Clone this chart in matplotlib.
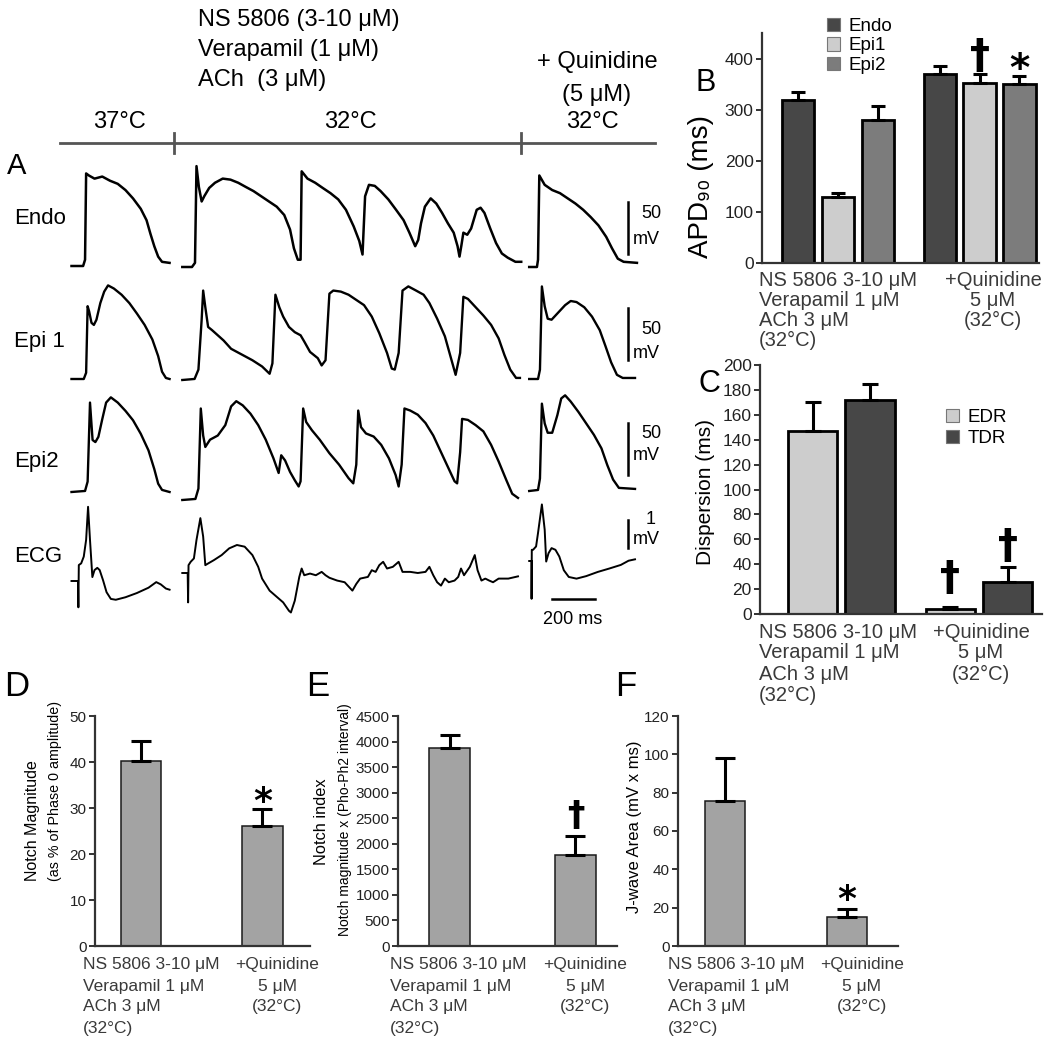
import numpy as np
import matplotlib
matplotlib.use('Agg')
import matplotlib.pyplot as plt
from matplotlib.lines import Line2D
from matplotlib.patches import Patch

plt.rcParams['font.family'] = ['Liberation Sans', 'DejaVu Sans']

W, H = 1050, 1042

# ---------------- panel A: traces (ms from sweep start, mV above rest) ----------------
endo_t1 = [0, 54, 63, 68, 81, 107, 143, 179, 215, 251, 286, 322, 349, 367, 385, 403, 421, 456]
endo_v1 = [0, 0, 6, 89, 87, 84, 86, 82, 79, 73, 65, 55, 44, 31, 19, 9, 4, 3]
endo_t2 = [0, 45, 59, 66, 77, 90, 102, 125, 152, 188, 224, 260, 295, 331, 367, 403, 439, 474,
           501, 519, 537, 550, 555, 582, 618, 653, 689, 725, 761, 797, 823, 838, 850, 868, 895,
           922, 958, 994, 1029, 1056, 1083, 1097, 1110, 1128, 1155, 1181, 1208, 1235, 1262,
           1280, 1289, 1298, 1307, 1325, 1343, 1369, 1387, 1405, 1432, 1459, 1486, 1513, 1549, 1576]
endo_v2 = [0, 0, 4, 97, 77, 63, 68, 76, 81, 85, 84, 81, 77, 73, 68, 63, 58, 50, 36, 18,
           7, 7, 92, 85, 81, 76, 71, 65, 55, 39, 25, 12, 68, 79, 78, 73, 65, 55, 45, 33,
           20, 26, 42, 58, 66, 61, 52, 42, 33, 20, 10, 21, 33, 31, 37, 55, 57, 52, 37, 23,
           13, 9, 5, 5]
endo_t3 = [0, 36, 41, 47, 72, 107, 143, 179, 215, 251, 286, 322, 358, 385, 412, 439, 501]
endo_v3 = [0, 0, 7, 88, 79, 74, 71, 66, 61, 55, 48, 40, 29, 18, 8, 5, 4]

epi1_t1 = [0, 57, 68, 75, 82, 93, 104, 116, 134, 152, 170, 197, 233, 269, 304, 340, 376, 403, 421, 439, 456]
epi1_v1 = [0, 0, 6, 70, 65, 54, 52, 57, 73, 84, 90, 87, 81, 73, 63, 52, 38, 22, 7, 1, 0]
epi1_t2 = [0, 57, 75, 90, 97, 107, 120, 138, 165, 192, 227, 272, 326, 371, 406, 419, 433, 451,
           469, 496, 523, 550, 567, 594, 630, 648, 666, 684, 702, 737, 773, 809, 845, 881, 916,
           952, 974, 988, 1006, 1024, 1051, 1087, 1122, 1149, 1185, 1221, 1248, 1271, 1292,
           1307, 1328, 1364, 1400, 1436, 1471, 1498, 1525, 1552, 1570]
epi1_v2 = [0, 1, 10, 58, 86, 70, 51, 48, 43, 38, 30, 25, 19, 13, 6, 16, 82, 70, 61, 51,
           46, 43, 37, 27, 21, 14, 19, 83, 86, 85, 82, 77, 72, 61, 45, 26, 11, 10, 26, 86,
           90, 86, 82, 74, 59, 42, 22, 5, 26, 80, 78, 70, 62, 53, 40, 24, 10, 2, 2]
epi1_t3 = [0, 41, 50, 59, 72, 86, 104, 131, 167, 193, 220, 256, 292, 328, 354, 381, 408, 435, 492]
epi1_v3 = [0, 0, 9, 89, 70, 58, 57, 63, 71, 75, 74, 69, 60, 47, 32, 16, 4, 1, 1]

epi2_t1 = [0, 63, 75, 86, 98, 111, 125, 143, 161, 183, 215, 251, 286, 322, 358, 385, 403, 421, 456]
epi2_v1 = [0, 1, 10, 86, 50, 48, 53, 70, 86, 91, 86, 78, 69, 56, 40, 22, 8, 2, 0]
epi2_t2 = [0, 61, 75, 86, 97, 107, 129, 165, 200, 227, 251, 281, 317, 353, 388, 424, 448, 460,
           478, 501, 523, 541, 550, 562, 576, 603, 639, 684, 729, 773, 795, 809, 818, 831, 854,
           890, 925, 961, 992, 1006, 1020, 1033, 1060, 1095, 1131, 1167, 1203, 1239, 1266,
           1278, 1292, 1301, 1328, 1364, 1400, 1436, 1471, 1507, 1534, 1561]
epi2_v2 = [0, 1, 11, 88, 62, 51, 58, 62, 72, 90, 95, 91, 83, 72, 58, 40, 26, 43, 38, 27,
           19, 13, 18, 88, 75, 67, 58, 45, 34, 21, 16, 34, 86, 70, 64, 61, 53, 40, 24, 13,
           34, 88, 86, 82, 74, 62, 46, 30, 18, 16, 46, 78, 77, 72, 66, 53, 37, 19, 6, 2]
epi2_t3 = [0, 41, 50, 59, 72, 86, 107, 131, 149, 167, 193, 229, 265, 301, 336, 363, 390, 417, 492]
epi2_v3 = [0, 1, 12, 84, 65, 56, 56, 73, 89, 92, 86, 76, 65, 54, 41, 25, 11, 3, 2]

# ECG in mV
ecg_t1 = [0, 30, 32, 34, 45, 57, 68, 77, 86, 97, 107, 120, 131, 147, 163, 183, 206, 251, 304,
          358, 394, 415, 439, 456]
ecg_v1 = [0, 0, -0.94, 0.57, 0.63, 0.87, 1.47, 2.65, 1.47, 0.14, 0.39, 0.47, 0.39, 0.02,
          -0.40, -0.64, -0.67, -0.58, -0.43, -0.24, -0.04, -0.12, -0.27, -0.31]
ecg_t2 = [0, 25, 27, 29, 39, 54, 66, 84, 97, 107, 120, 147, 183, 218, 254, 290, 326, 353, 371,
          406, 442, 469, 496, 505, 523, 544, 555, 567, 594, 621, 648, 666, 684, 720, 755, 791,
          809, 827, 863, 881, 899, 916, 934, 952, 979, 1006, 1024, 1060, 1095, 1131, 1149,
          1167, 1185, 1203, 1221, 1239, 1266, 1283, 1296, 1310, 1337, 1360, 1373, 1391, 1409,
          1427, 1445, 1471, 1516, 1561]
ecg_v2 = [0, 0, -1.05, 0.28, 0.40, 0.52, 1.18, 1.96, 1.30, 0.28, 0.34, 0.46, 0.64, 0.88, 1.0,
          0.94, 0.64, 0.22, -0.20, -0.63, -0.87, -1.05, -1.35, -1.41, -0.99, -0.14, 0.16,
          -0.08, -0.02, -0.08, 0.04, -0.08, -0.17, -0.27, -0.33, -0.63, -0.39, -0.20, -0.14,
          0.10, 0.04, 0.28, 0.40, 0.16, 0.22, 0.40, 0.04, 0.04, 0, 0.04, 0.22, -0.08, -0.33,
          -0.45, -0.20, -0.33, -0.27, -0.14, 0.16, -0.08, 0.22, 0.64, 0.10, -0.27, -0.20,
          -0.27, -0.33, -0.20, -0.20, -0.12]
ecg_t3 = [0, 11, 11, 12, 18, 32, 41, 59, 72, 79, 90, 104, 122, 140, 161, 184, 220, 265, 319,
          372, 426, 462, 492]
ecg_v3 = [0, 0, -1.35, 0.40, 0.40, 0.52, 1.00, 2.02, 1.12, -0.02, 0.28, 0.46, 0.40, 0.16,
          -0.33, -0.57, -0.63, -0.54, -0.39, -0.27, -0.14, 0.01, 0.06]

row_names = ['Endo', 'Epi 1', 'Epi2', 'ECG']

# ---------------- panels B-F: bar data ----------------
cond_left = ['NS 5806 3-10 \u03bcM', 'Verapamil 1 \u03bcM', 'ACh 3 \u03bcM', '(32\u00b0C)']
cond_right = ['+Quinidine', '5 \u03bcM', '(32\u00b0C)']

apd_series = ['Endo', 'Epi1', 'Epi2']
apd_mean = [[318, 370], [129, 352], [280, 350]]
apd_err = [[17, 15], [8, 17], [27, 16]]

disp_series = ['EDR', 'TDR']
disp_mean = [[147, 4], [172, 26]]
disp_err = [[23, 1.5], [13, 11.5]]

notch_mag = [40.3, 26.0]
notch_mag_err = [4.2, 3.8]
notch_idx = [3880, 1780]
notch_idx_err = [250, 365]
jwave_area = [75.5, 15.1]
jwave_err = [22.5, 4.4]

# ---------------- layout helpers ----------------
fig = plt.figure(figsize=(W / 100, H / 100), dpi=100)


def rect(x0, y0, x1, y1):
    return [x0 / W, 1 - y1 / H, (x1 - x0) / W, (y1 - y0) / H]


def ftext(x, y, s, **kw):
    fig.text(x / W, 1 - y / H, s, **kw)


def fline(xs, ys, **kw):
    fig.add_artist(Line2D([x / W for x in xs], [1 - y / H for y in ys],
                          transform=fig.transFigure, **kw))


# ---------------- panel A ----------------
MS_PER_PX = 4.65
PX_PER_MV = 1.04
ECG_GAIN = 28 / PX_PER_MV  # plot units per ECG mV

axA = fig.add_axes(rect(60, 150, 660, 640))
axA.set_xlim(0, 600 * MS_PER_PX)
axA.set_ylim(0, 490 / PX_PER_MV)
axA.axis('off')


def ax_x(xpx):
    return (xpx - 60) * MS_PER_PX


def ax_y(ypx):
    return (640 - ypx) / PX_PER_MV


seg_x = [71.5, 182.3, 529.2]
rows = [
    ([endo_t1, endo_t2, endo_t3], [endo_v1, endo_v2, endo_v3], [266, 267, 267], 1, 1.8),
    ([epi1_t1, epi1_t2, epi1_t3], [epi1_v1, epi1_v2, epi1_v3], [379, 380, 379], 1, 1.7),
    ([epi2_t1, epi2_t2, epi2_t3], [epi2_v1, epi2_v2, epi2_v3], [492, 500, 491], 1, 1.7),
    ([ecg_t1, ecg_t2, ecg_t3], [ecg_v1, ecg_v2, ecg_v3], [581, 573, 561], ECG_GAIN, 1.4),
]
for ts, vs, bases, gain, lw in rows:
    for t, v, b, sx in zip(ts, vs, bases, seg_x):
        axA.plot(np.array(t) + ax_x(sx), ax_y(b) + np.array(v) * gain,
                 color='black', lw=lw, solid_joinstyle='round')

# scale bars
for bottom in [254, 360, 475]:
    axA.plot([ax_x(628)] * 2, [ax_y(bottom), ax_y(bottom) + 50], color='black', lw=1.8)
axA.plot([ax_x(628)] * 2, [ax_y(548), ax_y(548) + ECG_GAIN], color='black', lw=1.8)
axA.plot([ax_x(551.5), ax_x(551.5) + 200], [ax_y(599)] * 2, color='black', lw=1.8)

for y50, ymv in [(213, 240), (330, 353), (433, 456)]:
    ftext(641, y50, '50', fontsize=13, va='center', ha='left')
    ftext(633, ymv, 'mV', fontsize=13, va='center', ha='left')
ftext(646, 519, '1', fontsize=13, va='center', ha='left')
ftext(633, 540, 'mV', fontsize=13, va='center', ha='left')
ftext(573, 619, '200 ms', fontsize=13, va='center', ha='center')

for name, y in zip(row_names, [218, 342, 462, 557]):
    ftext(14, y, name, fontsize=16, va='center', ha='left')

# header
fline([60, 655], [143, 143], color='#555555', lw=2)
for xt in [174, 521]:
    fline([xt, xt], [133, 153], color='#555555', lw=2)
ftext(119, 122, '37\u00b0C', fontsize=17, ha='center', va='center')
ftext(350, 122, '32\u00b0C', fontsize=17, ha='center', va='center')
ftext(592, 122, '32\u00b0C', fontsize=17, ha='center', va='center')
ftext(597, 95, '(5 \u03bcM)', fontsize=17, ha='center', va='center')
ftext(597, 62, '+ Quinidine', fontsize=17, ha='center', va='center')
for s, y in [('NS 5806 (3-10 \u03bcM)', 20), ('Verapamil (1 \u03bcM)', 50), ('ACh  (3 \u03bcM)', 80)]:
    ftext(198, y, s, fontsize=17, ha='left', va='center')

ftext(17, 166, 'A', fontsize=21, ha='center', va='center')


# ---------------- bar panels ----------------
def bar_axes(rpx, ylim, yticks, xlim, tick_fs):
    ax = fig.add_axes(rect(*rpx))
    ax.set_ylim(*ylim)
    ax.set_xlim(*xlim)
    ax.set_yticks(yticks)
    for s in ['top', 'right']:
        ax.spines[s].set_visible(False)
    for s in ['left', 'bottom']:
        ax.spines[s].set_linewidth(1.6)
        ax.spines[s].set_color('#333333')
    ax.tick_params(axis='x', length=0, labelbottom=False)
    ax.tick_params(axis='y', direction='out', length=4, width=1.3, colors='#222222',
                   labelsize=tick_fs, pad=2)
    return ax


def cond_labels(x_left, x_right_c, y0, pitch, fs):
    for i, s in enumerate(cond_left):
        ftext(x_left, y0 + i * pitch, s, fontsize=fs, ha='left', va='center', color='#3a3a3a')
    for i, s in enumerate(cond_right):
        ftext(x_right_c, y0 + i * pitch, s, fontsize=fs, ha='center', va='center', color='#3a3a3a')


def upper_err(ax, x, vals, errs, cap):
    ax.errorbar(x, vals, yerr=[np.zeros(len(vals)), errs], fmt='none', ecolor='black',
                elinewidth=2.2, capsize=cap, capthick=2.2, zorder=3)


def dagger(ax, x, y, fs):
    ax.text(x, y, '\u2020', fontsize=fs, ha='center', va='center', family='DejaVu Sans',
            fontweight='bold')


def star(ax, x, y, fs):
    ax.text(x, y, '*', fontsize=fs, ha='center', va='center', family='DejaVu Sans',
            fontweight='bold')


# B: APD90
axB = bar_axes((762, 33, 1039, 263), (0, 450), [0, 100, 200, 300, 400], (-0.91, 6.04), 12.5)
apd_colors = ['#474747', '#cdcdcd', '#7c7c7c']
group_x = np.array([0, 3.55])
for i, (m, e, c) in enumerate(zip(apd_mean, apd_err, apd_colors)):
    xs = group_x + i
    axB.bar(xs, m, width=0.81, color=c, edgecolor='black', linewidth=2, zorder=2)
    upper_err(axB, xs, m, e, 5)
dagger(axB, 4.55, 404, 29)
star(axB, 5.55, 377, 28)
axB.set_ylabel('APD\u2089\u2080 (ms)', fontsize=20, labelpad=2)
axB.yaxis.set_label_coords((714 - 762) / 277, 1 - (187 - 33) / 230)
axB.legend([Patch(facecolor=c, edgecolor='#777777', lw=0.8) for c in apd_colors], apd_series,
           loc='upper left', bbox_to_anchor=(827 / W, 1 - 18 / H), bbox_transform=fig.transFigure,
           frameon=False, fontsize=13.5, handlelength=0.7, handleheight=0.7,
           handletextpad=0.45, labelspacing=0.12, borderpad=0, borderaxespad=0)
cond_labels(759, 993, 280, 20, 14.5)
ftext(706, 83, 'B', fontsize=22, ha='center', va='center')

# C: dispersion
axC = bar_axes((760, 365, 1042, 614), (0, 200), np.arange(0, 201, 20), (-0.92, 4.0), 12.5)
disp_colors = ['#cdcdcd', '#474747']
group_x = np.array([0, 2.4])
for i, (m, e, c) in enumerate(zip(disp_mean, disp_err, disp_colors)):
    xs = group_x + i
    axC.bar(xs, m, width=0.86, color=c, edgecolor='black', linewidth=2, zorder=2)
    upper_err(axC, xs, m, e, 6)
dagger(axC, 2.4, 28, 29)
dagger(axC, 3.4, 54, 29)
axC.set_ylabel('Dispersion (ms)', fontsize=15, labelpad=2)
axC.yaxis.set_label_coords((715 - 760) / 282, 1 - (492 - 365) / 249)
axC.legend([Patch(facecolor=c, edgecolor='#777777', lw=0.8) for c in disp_colors], disp_series,
           loc='upper left', bbox_to_anchor=(946 / W, 1 - 409 / H), bbox_transform=fig.transFigure,
           frameon=False, fontsize=13.5, handlelength=0.7, handleheight=0.7,
           handletextpad=0.45, labelspacing=0.2, borderpad=0, borderaxespad=0)
cond_labels(759, 981, 632, 21, 14.5)
ftext(709, 384, 'C', fontsize=22, ha='center', va='center')

# D, E, F
small_panels = [
    ('D', (95, 716, 310, 946), (0, 50), np.arange(0, 51, 10), (-0.375, 1.39),
     notch_mag, notch_mag_err, 83, 277, 17, 31.3, '*'),
    ('E', (398, 716, 617, 946), (0, 4500), np.arange(0, 4501, 500), (-0.41, 1.33),
     notch_idx, notch_idx_err, 390, 585, 318, 2540, 'dagger'),
    ('F', (678, 716, 898, 946), (0, 120), np.arange(0, 121, 20), (-0.385, 1.42),
     jwave_area, jwave_err, 668, 862, 626, 24.0, '*'),
]
for letter, rpx, ylim, yt, xl, vals, errs, xl_left, xl_right, let_x, mark_y, mark in small_panels:
    ax = bar_axes(rpx, ylim, yt, xl, 11)
    ax.bar([0, 1], vals, width=0.33, color='#a3a3a3', edgecolor='#1a1a1a', linewidth=1.1, zorder=2)
    upper_err(ax, [0, 1], vals, errs, 7)
    if mark == '*':
        star(ax, 1, mark_y, 26)
    else:
        dagger(ax, 1, mark_y, 25)
    cond_labels(xl_left, xl_right, 965, 21, 12.5)
    ftext(let_x, 687, letter, fontsize=25, ha='center', va='center')

ftext(32, 821, 'Notch Magnitude', fontsize=11.5, rotation=90, ha='center', va='center')
ftext(55, 791, '(as % of Phase 0 amplitude)', fontsize=10.3, rotation=90, ha='center', va='center')
ftext(322, 822, 'Notch index', fontsize=11.8, rotation=90, ha='center', va='center')
ftext(345, 820, 'Notch magnitude x (Pho-Ph2 interval)', fontsize=10, rotation=90,
      ha='center', va='center')
ftext(635, 827, 'J-wave Area (mV x ms)', fontsize=12, rotation=90, ha='center', va='center')

fig.savefig('out.png', dpi=100)
